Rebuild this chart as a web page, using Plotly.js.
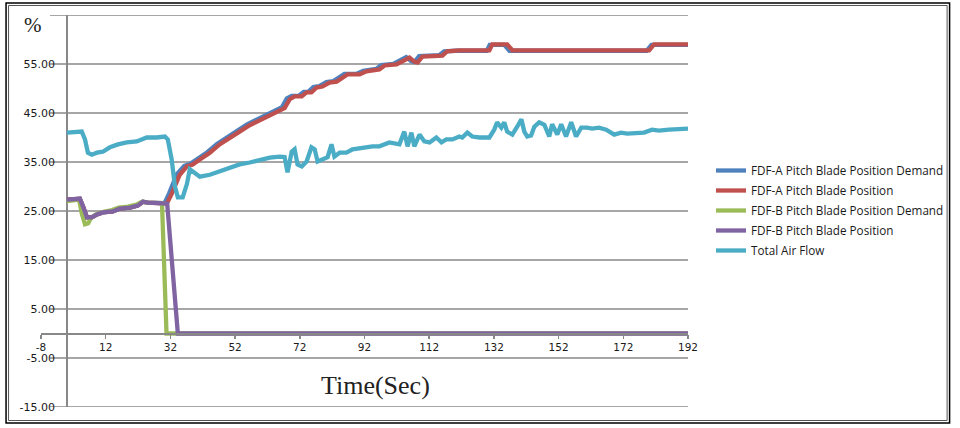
<!DOCTYPE html>
<html>
<head>
<meta charset="utf-8">
<script src="https://cdn.plot.ly/plotly-3.0.1.min.js"></script>
<style>
html,body{margin:0;padding:0;background:#fff;}
#chart{width:960px;height:428px;}
</style>
</head>
<body>
<div id="chart"></div>
<script>
// ---- Data (time in seconds, values in %) ----
var seriesNames = [
  "FDF-A Pitch Blade Position Demand",
  "FDF-A Pitch Blade Position",
  "FDF-B Pitch Blade Position Demand",
  "FDF-B Pitch Blade Position",
  "Total Air Flow"
];

var fdfADemandT = [0,4.0,5.0,6.2,7.7,9.3,11.1,14.2,16.4,19.5,21.9,23.5,25.0,29.7,30.2,31.6,33.2,34.0,36.3,38.0,40.3,43.4,46.4,49.5,52.6,55.7,58.8,61.9,65.0,66.5,68.0,69.5,71.6,73.2,74.6,76.2,78.0,80.2,82.4,84.2,85.8,89.6,91.6,95.6,97.2,100.9,102.7,104.9,106.4,107.4,108.9,115.1,116.6,120.3,129.8,130.7,135.2,136.8,179.2,180.7,192];
var fdfADemandV = [27.3,27.5,25.9,23.7,23.7,24.3,24.7,24.9,25.5,25.7,26.1,26.9,26.7,26.7,26.6,28.6,31.1,32.5,34.2,34.6,35.6,37.0,38.7,40.0,41.4,42.7,43.7,44.7,45.9,46.2,48.0,48.5,48.5,49.3,49.3,50.3,50.5,51.3,51.5,52.3,53.0,53.0,53.6,54.0,54.8,55.0,55.6,56.4,55.6,55.4,56.6,56.8,57.6,57.7,57.7,58.9,58.9,57.7,57.7,58.9,58.9];

var fdfAPosT = [0,4.0,5.0,6.2,7.7,9.3,11.1,14.2,16.4,19.5,21.9,23.5,25.0,29.7,30.9,32.4,34.0,34.9,37.1,38.9,41.1,44.2,47.2,50.3,53.4,56.5,59.6,62.7,65.8,67.3,68.9,70.4,72.6,74.1,75.6,77.2,79.0,81.2,83.4,85.2,86.8,90.5,92.6,96.6,98.2,101.9,103.7,105.9,107.4,108.4,109.9,116.1,117.6,121.3,130.6,131.5,136.1,137.7,180.0,181.5,192];
var fdfAPosV = [27.3,27.5,25.9,23.7,23.7,24.3,24.7,24.9,25.5,25.7,26.1,26.9,26.7,26.7,26.5,28.5,31.0,32.4,34.1,34.5,35.5,36.9,38.6,39.8,41.2,42.5,43.5,44.5,45.7,46.0,47.8,48.4,48.4,49.2,49.2,50.2,50.4,51.2,51.4,52.2,52.9,52.9,53.5,53.9,54.7,54.9,55.5,56.3,55.5,55.3,56.5,56.7,57.6,57.8,57.8,59.0,59.0,57.8,57.8,59.0,59.0];

var fdfBDemandT = [0,3.8,4.6,5.6,6.6,7.4,9.0,11.0,14.0,16.0,19.0,21.5,23.2,25.0,29.4,30.8,192];
var fdfBDemandV = [27.0,27.3,24.5,22.3,22.5,23.5,24.3,24.8,25.2,25.7,25.9,26.3,26.9,26.7,26.6,0,0];

var fdfBPosT = [0,4.0,5.0,6.2,7.7,9.3,11.1,14.2,16.4,19.5,21.9,23.5,25.0,29.7,31.0,34.3,192];
var fdfBPosV = [27.3,27.5,25.9,23.7,23.7,24.3,24.7,24.9,25.5,25.7,26.1,26.9,26.7,26.7,26.5,0,0];

var airFlowT = [0,2.5,4.6,5.6,6.5,7.7,9.3,11.1,13.3,15.8,18.5,21.6,24.7,27.8,30.3,31.2,32.4,33.4,34.3,35.8,37.1,38.0,38.9,41.1,44.2,47.2,50.3,53.4,56.5,59.6,62.7,65.8,67.3,68.2,69.5,70.4,71.3,72.6,74.1,75.6,76.6,77.5,79.0,80.6,81.8,82.7,84.3,86.4,88.3,91.4,94.5,96.6,99.7,102.8,104.3,105.3,106.5,107.4,109.0,110.5,112.1,114.2,115.8,117.3,119.2,121.3,122.2,123.8,125.3,127.5,130.6,132.1,133.0,134.3,135.2,136.1,137.7,139.2,140.5,141.4,142.3,143.5,144.5,146.0,147.6,149.1,150.0,151.6,152.8,154.3,155.9,157.4,159.0,160.8,162.4,164.5,166.7,169.2,171.3,173.2,175.9,178.4,180.9,183.0,186.1,189.2,192];
var airFlowV = [41.0,41.2,41.2,39.6,36.9,36.5,36.9,37.1,38.0,38.6,39.0,39.2,40.0,40.0,40.2,39.6,35.5,30.0,27.8,27.8,30.5,33.5,33.1,32.0,32.4,33.1,33.9,34.5,34.9,35.5,35.9,36.1,36.0,32.9,37.1,37.6,34.5,34.1,35.1,38.0,37.6,35.1,35.5,36.0,38.6,36.1,36.9,36.9,37.6,38.0,38.2,38.2,39.0,38.6,41.2,38.2,41.0,38.2,40.6,39.2,39.0,40.0,39.0,39.6,39.6,40.2,40.0,41.0,40.2,40.0,40.0,41.6,43.1,42.0,43.1,41.2,40.6,42.2,43.7,41.2,40.2,40.4,42.2,43.1,42.6,40.2,42.7,40.6,42.7,40.2,43.1,40.2,42.0,42.0,41.8,42.0,41.6,40.6,41.0,40.8,41.0,41.0,41.6,41.4,41.6,41.6,41.8];

var xTickVals = [-8,12,32,52,72,92,112,132,152,172,192];
var yTickVals = [-15,-5,5,15,25,35,45,55];
var yTickText = ["-15.00","-5.00","5.00","15.00","25.00","35.00","45.00","55.00"];
var gridVals = [-15,-5,5,15,25,35,45,55,65];

var colors = ["#4F81BD","#C0504D","#9BBB59","#8064A2","#4BACC6"];

// ---- Traces ----
var xs = [fdfADemandT, fdfAPosT, fdfBDemandT, fdfBPosT, airFlowT];
var ys = [fdfADemandV, fdfAPosV, fdfBDemandV, fdfBPosV, airFlowV];
var traces = [];
for (var i = 0; i < 5; i++) {
  traces.push({
    x: xs[i], y: ys[i], type: "scatter", mode: "lines",
    name: seriesNames[i], legendgroup: "g" + i,
    line: {color: colors[i], width: 4.3},
    hoverinfo: "skip"
  });
}

// ---- Layout ----
var L = 41, R = 689, T = 15, B = 407;
function px2paperX(p){ return (p - L) / (R - L); }
function px2paperY(p){ return (B - p) / (B - T); }

var shapes = [];
gridVals.forEach(function(v){
  shapes.push({type:"line", xref:"paper", yref:"y", x0:px2paperX(50), x1:1, y0:v, y1:v,
    line:{color:"#888888", width:1.6}, layer:"below"});
});
shapes.push({type:"rect", xref:"paper", yref:"paper",
  x0:px2paperX(6), x1:px2paperX(951), y0:px2paperY(423), y1:px2paperY(3),
  line:{color:"#000000", width:1.5}, fillcolor:"rgba(0,0,0,0)", layer:"above"});
shapes.push({type:"rect", xref:"paper", yref:"paper",
  x0:px2paperX(8.5), x1:px2paperX(948.5), y0:px2paperY(420.5), y1:px2paperY(5.5),
  line:{color:"#555555", width:1}, fillcolor:"rgba(0,0,0,0)", layer:"above"});

var layout = {
  width: 960, height: 428,
  margin: {l: L, r: 960 - R, t: T, b: 428 - B, pad: 0},
  paper_bgcolor: "#ffffff", plot_bgcolor: "rgba(0,0,0,0)",
  showlegend: true,
  legend: {
    x: px2paperX(711), xanchor: "left",
    y: px2paperY(156), yanchor: "top",
    bgcolor: "rgba(0,0,0,0)", borderwidth: 0,
    tracegroupgap: 1,
    font: {family: "Open Sans, Noto Sans, sans-serif", size: 11.7, color: "#1a1a1a"}
  },
  xaxis: {
    range: [-8, 192], tickvals: xTickVals, ticktext: xTickVals.map(String),
    anchor: "free", position: 15/80,
    showline: true, linecolor: "#888888", linewidth: 2,
    ticks: "outside", ticklen: 4, tickwidth: 1.5, tickcolor: "#888888",
    showgrid: false,
    zeroline: true, zerolinecolor: "#888888", zerolinewidth: 2,
    tickfont: {family: "DejaVu Sans, Verdana, sans-serif", size: 10.5, color: "#1a1a1a"},
    fixedrange: true
  },
  yaxis: {
    range: [-15, 65], tickvals: yTickVals, ticktext: yTickText,
    anchor: "free", position: px2paperX(55),
    showline: false, ticks: "", showgrid: false, zeroline: false,
    tickfont: {family: "DejaVu Sans, Verdana, sans-serif", size: 11, color: "#1a1a1a"},
    fixedrange: true
  },
  shapes: shapes,
  annotations: [
    {text: "%", xref: "paper", yref: "paper", x: px2paperX(33), y: px2paperY(25),
     xanchor: "center", yanchor: "middle", showarrow: false,
     font: {family: "Liberation Serif, serif", size: 21, color: "#222222"}},
    {text: "Time(Sec)", xref: "paper", yref: "paper", x: px2paperX(376), y: px2paperY(385),
     xanchor: "center", yanchor: "middle", showarrow: false,
     font: {family: "Liberation Serif, serif", size: 26, color: "#222222"}}
  ]
};

Plotly.newPlot("chart", traces, layout, {displayModeBar: false, staticPlot: true});
</script>
</body>
</html>
